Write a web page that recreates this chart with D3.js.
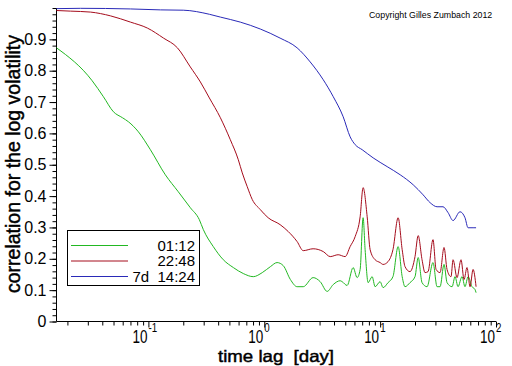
<!DOCTYPE html>
<html lang="en">
<head>
    <meta charset="UTF-8">
    <title>Log volatility correlation</title>
    <script src="https://cdnjs.cloudflare.com/ajax/libs/d3/7.8.5/d3.min.js"></script>
    <style>
        body { margin: 0; background: #fff; }
        svg { font-family: "Liberation Sans", Arial, sans-serif; }
        .line { fill: none; stroke-width: 1px; }
        .tick-label { font-size: 16px; fill: #000; }
        .title { fill: #000; stroke: #000; stroke-width: 0.45px; }
    </style>
</head>
<body>
    <div id="chart"></div>

    <script>
        // series names (legend)
        var seriesNames = ["01:12", "22:48", "7d  14:24"];
        var seriesColors = ["#22b822", "#a50c1c", "#2a2ab8"];

        // time lag in days, correlation values
        var lag_0112 = [0.0161, 0.0327, 0.0409, 0.0499, 0.0597, 0.0673, 0.082, 0.104, 0.140, 0.181, 0.230, 0.275, 0.298,
                        0.363, 0.443, 0.541, 0.659, 0.804, 0.961, 1.13, 1.29, 1.46, 1.68, 1.92, 2.17, 2.64, 3.04, 3.49,
                        3.94, 4.52, 4.70, 5.19, 5.85, 6.33, 6.72, 7.13, 7.42, 7.88, 8.53, 9.05, 10.0, 10.6, 11.7, 12.9,
                        14.3, 15.5, 16.4, 18.1, 20.0, 21.3, 23.0, 25.4, 28.6, 31.0, 32.9, 35.6, 37.8, 41.8, 44.3, 47.0,
                        50.9, 54.0, 57.4, 62.1, 65.9, 67.3];
        var corr_0112 = [0.873, 0.768, 0.717, 0.669, 0.650, 0.637, 0.605, 0.548, 0.468, 0.414, 0.363, 0.325, 0.293,
                         0.239, 0.197, 0.172, 0.153, 0.143, 0.156, 0.175, 0.188, 0.178, 0.134, 0.111, 0.111, 0.140, 0.127, 0.096,
                         0.118, 0.130, 0.127, 0.115, 0.172, 0.140, 0.166, 0.331, 0.229, 0.124, 0.143, 0.111, 0.127, 0.108, 0.124, 0.143,
                         0.239, 0.143, 0.111, 0.124, 0.143, 0.204, 0.124, 0.111, 0.188, 0.111, 0.111, 0.182, 0.124, 0.111, 0.143, 0.111,
                         0.143, 0.111, 0.143, 0.111, 0.102, 0.092];

        var lag_2248 = [0.0161, 0.0213, 0.0316, 0.047, 0.070, 0.098, 0.135, 0.178, 0.230, 0.281, 0.336, 0.418, 0.509,
                        0.597, 0.646, 0.713, 0.788, 0.924, 1.08, 1.37, 1.61, 1.92, 2.17, 2.64, 3.23, 3.71, 4.34, 4.99,
                        5.51, 6.09, 6.72, 7.13, 7.73, 8.2, 9.05, 10.0, 10.6, 11.7, 12.9, 14.3, 15.5, 16.4, 18.1, 20.0,
                        21.3, 23.0, 24.4, 25.9, 28.6, 30.4, 32.9, 35.6, 37.8, 40.9, 42.6, 46.1, 49.9, 53.0, 56.2, 59.7,
                        63.4, 67.3];
        var corr_2248 = [0.992, 0.990, 0.987, 0.975, 0.955, 0.936, 0.904, 0.873, 0.812, 0.764, 0.713, 0.650, 0.580,
                         0.516, 0.474, 0.430, 0.389, 0.357, 0.331, 0.309, 0.287, 0.255, 0.226, 0.232, 0.223, 0.207, 0.213, 0.207,
                         0.239, 0.271, 0.334, 0.427, 0.334, 0.229, 0.197, 0.188, 0.182, 0.191, 0.229, 0.331, 0.229, 0.175, 0.159, 0.207,
                         0.274, 0.197, 0.156, 0.159, 0.261, 0.166, 0.156, 0.236, 0.166, 0.143, 0.197, 0.140, 0.197, 0.134, 0.172, 0.111,
                         0.166, 0.111];

        var lag_7d1424 = [0.0161, 0.0259, 0.070, 0.127, 0.200, 0.336, 0.418, 0.621, 0.924, 1.37, 1.92, 2.49, 3.23,
                          3.94, 4.80, 5.51, 6.09, 7.0, 8.7, 11.5, 14.9, 19.3, 23.5, 27.0, 31.0, 34.9, 38.6, 42.6,
                          48.9, 54.0, 57.4, 63.4, 67.3];
        var corr_7d1424 = [0.998, 0.999, 0.997, 0.994, 0.993, 0.980, 0.971, 0.955, 0.933, 0.904, 0.873, 0.828, 0.771,
                           0.717, 0.653, 0.589, 0.564, 0.548, 0.522, 0.494, 0.468, 0.436, 0.404, 0.379, 0.366, 0.366, 0.347, 0.322,
                           0.350, 0.331, 0.299, 0.299, 0.299];

        var xDomain = [0.0161, 100];
        var yDomain = [0, 1];
        var yMajorTicks = [0, 0.1, 0.2, 0.3, 0.4, 0.5, 0.6, 0.7, 0.8, 0.9];
        var xMajorTicks = [0.1, 1, 10, 100];
        var xTickExponents = ["-1", "0", "1", "2"];

        var width = 512,
            height = 366;

        var svg = d3.select("#chart")
                    .append("svg")
                    .attr("width", width)
                    .attr("height", height);

        var x = d3.scaleLog()
                  .domain(xDomain)
                  .range([56.5, 496]);

        var y = d3.scaleLinear()
                  .domain(yDomain)
                  .range([321.5, 8]);

        // y axis: labels every 0.1, minor ticks every 0.02
        var yMinor = d3.range(0, 51).map(function(i) { return i / 50; });
        var yAxisMinor = d3.axisLeft(y)
                           .tickValues(yMinor)
                           .tickSize(4)
                           .tickFormat("");
        var yAxisMajor = d3.axisLeft(y)
                           .tickValues(yMajorTicks)
                           .tickSize(7)
                           .tickPadding(3)
                           .tickFormat(function(d) { return d === 0 ? "0" : d3.format(".1f")(d); });

        svg.append("g")
           .attr("transform", "translate(56.5,0)")
           .call(yAxisMinor)
           .call(function(g) { g.select(".domain").remove(); });

        var gy = svg.append("g")
                    .attr("transform", "translate(56.5,0)")
                    .call(yAxisMajor);
        gy.select(".domain").attr("d", "M0," + y(1) + "V" + y(0));
        gy.selectAll(".tick text")
          .attr("class", "tick-label")
          .attr("font-family", null)
          .attr("font-size", null);

        // x axis: log ticks pointing down
        var xMinor = [];
        [0.01, 0.1, 1, 10].forEach(function(p) {
            for (var k = 2; k <= 9; k++) {
                var v = k * p;
                if (v >= xDomain[0]) xMinor.push(v);
            }
        });
        var xAxisMinor = d3.axisBottom(x)
                           .tickValues(xMinor)
                           .tickSize(4)
                           .tickFormat("");
        var xAxisMajor = d3.axisBottom(x)
                           .tickValues(xMajorTicks)
                           .tickSize(6)
                           .tickFormat("");

        svg.append("g")
           .attr("transform", "translate(0,321.5)")
           .call(xAxisMinor)
           .call(function(g) { g.select(".domain").remove(); });

        var gx = svg.append("g")
                    .attr("transform", "translate(0,321.5)")
                    .call(xAxisMajor);
        gx.select(".domain").attr("d", "M" + x(xDomain[0]) + ",0H" + x(100));

        svg.selectAll(".tick line").attr("stroke", "#000");
        svg.selectAll(".domain").attr("stroke", "#000");

        // power-of-ten labels, narrow like the original bitmap font
        var xl = svg.append("g").selectAll("g")
                    .data(xMajorTicks)
                    .enter().append("g")
                    .attr("transform", function(d) { return "translate(" + (x(d) - 1) + ",0)"; });
        xl.append("text")
          .attr("transform", "translate(0,343) scale(0.75,1)")
          .attr("text-anchor", "end")
          .attr("font-size", 18)
          .text("10");
        xl.append("text")
          .attr("transform", "translate(1,332) scale(0.75,1)")
          .attr("text-anchor", "start")
          .attr("font-size", 13)
          .text(function(d, i) { return xTickExponents[i]; });

        // curves
        var line = d3.line()
                     .curve(d3.curveMonotoneX)
                     .x(function(d) { return x(d[0]); })
                     .y(function(d) { return y(d[1]); });

        var series = [
            d3.zip(lag_0112, corr_0112),
            d3.zip(lag_2248, corr_2248),
            d3.zip(lag_7d1424, corr_7d1424)
        ];

        svg.append("g").selectAll("path")
           .data(series)
           .enter().append("path")
           .attr("class", "line")
           .attr("stroke", function(d, i) { return seriesColors[i]; })
           .attr("d", line);

        // legend
        var legend = svg.append("g");
        legend.append("rect")
              .attr("x", 67.5)
              .attr("y", 230.5)
              .attr("width", 132)
              .attr("height", 55)
              .attr("fill", "#fff")
              .attr("stroke", "#000");

        var item = legend.selectAll(".item")
                         .data(seriesNames)
                         .enter().append("g")
                         .attr("class", "item")
                         .attr("transform", function(d, i) { return "translate(0," + (245.5 + i * 15.5) + ")"; });
        item.append("line")
            .attr("x1", 71)
            .attr("x2", 128)
            .attr("stroke", function(d, i) { return seriesColors[i]; });
        item.append("text")
            .attr("x", 195)
            .attr("y", 5)
            .attr("text-anchor", "end")
            .attr("font-size", 15)
            .style("white-space", "pre")
            .text(function(d) { return d; });

        // axis titles
        svg.append("text")
           .attr("class", "title")
           .attr("transform", "translate(276,362) scale(1.13,1)")
           .attr("text-anchor", "middle")
           .attr("font-size", 16.5)
           .style("white-space", "pre")
           .text("time lag  [day]");

        svg.append("text")
           .attr("class", "title")
           .attr("transform", "translate(20,164) rotate(-90)")
           .attr("text-anchor", "middle")
           .attr("font-size", 19.5)
           .text("correlation for the log volatility");

        svg.append("text")
           .attr("x", 369)
           .attr("y", 18)
           .attr("font-size", 8.8)
           .text("Copyright Gilles Zumbach 2012");
    </script>
</body>
</html>
